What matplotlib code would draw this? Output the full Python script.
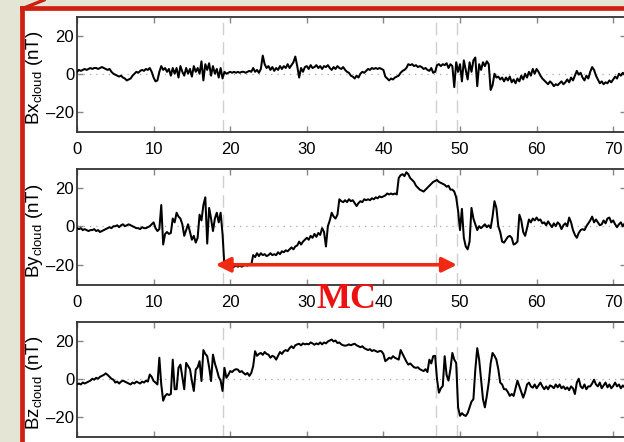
import numpy as np
import matplotlib
matplotlib.use("Agg")
import matplotlib.pyplot as plt
from matplotlib import font_manager
from matplotlib.lines import Line2D

# ---------------- data ----------------
dt = 0.25
bx_cloud = [
    1, 2, 1.5, 2,   2.5, 2, 2.5, 3,   2.5, 3, 3, 2.5,   3, 3.5, 3, 2.5,
    2, 2.5, 1, 0,   -0.5, -1, -1.5, -1,   -2, -2.5, -3.5, -3,   -2.5, -1, 0, 1,
    0.5, 1.5, 2, 1.5,   2.5, 2, 3, 1,   -2, -4, -3.5, 1,   4, 2, 3, 1,
    2.5, -1, 3, 0,   3, -2, 4, 1,   -1, 3, 0, 2.5,   -1.5, 4, 1, 3,
    0, 6.5, -3.5, 5,   2, 5.5, -1, 4,   0, 2.5, -2, 3,   -2.5, 1, 0, 0.5,
    1, 0.5, 1, 0.5,   1, 0.5, 1, 1,   0.5, 1, 1.5, 1,   3, 1, 2, 0.5,
    2.5, 9.5, 5, 3,   4, 2, 3.5, 1.5,   3, 2, 4, 2.5,   4, 3, 5, 3,
    4.5, 6, 9, 4,   -2, 3, 1, 3.5,   4, 2.5, 4.5, 3,   3.5, 4.5, 3, 4,
    2.5, 4, 3.5, 4.5,   3, 2, 3.5, 2.5,   4, 3, 2.5, 3.5,   2, 1, 0.5, -1,
    -1.5, -2.5, -1, -2,   0, 1, 0.5, 1.5,   2.5, 2, 3, 2.5,   3, 2.5, 3, 2.5,
    2, -1.5, -2.5, -3.5,   -2.5, -3, -2, -1.5,   -1, 0.5, 1.5, 2,   3, 5, 4.5, 5,
    4, 4.5, 3.5, 4,   3.5, 2.5, 3, 2,   1.5, 3, 0.5, 1,   4.5, 5, 4, 5,
    4.5, 5.5, 3, 5,   4, -7, 6, 1,   5, -4, 7, 2,   -3, 6, 1, 7,
    8.5, -6.5, 5, 2,   6, 4, 6.5, 5,   -8.5, -6, 0, -2,   -1.5, -3, -2, -4,
    -2, -3.5, -1.5, -4.5,   -3, -5, -2.5, -4,   -1, -3, 0, -2,   1, -1, 2.5, 0,
    2.5, 1, -1, -2.5,   -3.5, -4.5, -5.5, -4,   -5, -6.5, -5.5, -6,   -5, -4, -5.5, -4.5,
    -3, -4.5, -2, -3.5,   -1, 1.5, -0.5, 0.5,   -2, -3.5, -1, -2.5,   1, 3.5, 2, -1,
    -3, -5, -4, -5.5,   -4.5, -5, -3.5, -4.5,   -3, -1.5, -2.5, 0,   -1, 0.5, -0.5, 0,
]
by_cloud = [
    -1, -1.5, -1, -2,   -1.5, -2, -2.5, -2,   -2, -1.5, -2.5, -2,   -3, -2.5, -2, -1.5,
    -1, -0.5, -1, 0,   0, 0.5, -0.5, 0.5,   1, 0, 0.5, 1,   0.5, 0, -0.5, -1,
    -1, -1.5, -0.5, -1,   -1, -0.5, 0, 1,   2, -1, -2.5, -1.5,   11, -9.5, -4, -3,
    -4, -3.5, 4, 2,   7, 5, 4, 1,   -5, -2, 1, -3,   -7, -5, -8.5, -6,
    6, 3, 11, 15,   -9, 9.5, 4, -2.5,   4, 7, 2, 7,   -4, -21, -21, -21.5,
    -21, -21.5, -21, -20.5,   -21, -20.5, -21, -20.5,   -20, -20.5, -19.5, -20,   -15, -16, -14, -15.5,
    -14, -15, -14.5, -15.5,   -15, -14, -15, -14.5,   -15, -13.5, -14.5, -13,   -13.5, -12.5, -13, -12,
    -11, -12, -10.5, -10,   -8, -9.5, -8, -7,   -6, -7, -5, -6,   -4, -5.5, -3.5, -4.5,
    -1, -3, -10.5, 0,   3, 7, 5, 4,   6, 14, 13, 12.5,   13.5, 12.5, 14, 13,
    13.5, 12, 10.5, 12,   13, 12.5, 14, 13.5,   14, 13.5, 14.5, 14,   15, 14.5, 15.5, 15,
    15.5, 16, 17, 16.5,   17, 16.5, 17, 16.5,   25, 26.5, 27, 26,   28, 27, 25, 24,
    23, 21, 20, 19,   18.5, 18, 19, 20,   21, 22, 23, 23.5,   24, 23, 22.5, 22,
    21.5, 20.5, 21, 19,   19, 18, 15, 8,   -2, 9, -6, -10.5,   -12, -8, 9.5, 4,
    1, -2, 0, -1,   0, 1, -0.5, 0.5,   -1, 5, 13, 9.5,   0, -3, -8, -8.5,
    -7, -5.5, -5, -6,   -9.5, -9, -8, 6,   3, -3, -5, -1,   3.5, 2, 4, 3,
    4.5, 3, 3.5, 1.5,   2, 0.5, 2.5, 1,   -0.5, 1.5, 0, 2,   1, -1.5, 0.5, 1.5,
    0, 4.5, 2, -2,   -4.5, -6, -3.5, -2,   -1.5, -2, 0, 1.5,   3, 5, 2, 3.5,
    2, 0.5, 1, 3,   1.5, 4, 4.5, 2,   3, 1, -0.5, 1,   2, 0, 1.5, 0.5,
]
bz_cloud = [
    -3, -2.5, -3, -2,   -2.5, -2, -1.5, -1,   0, -0.5, 0.5, 0,   1, 1.5, 2, 2.8,
    2, 1, 0, -0.5,   -2, -1.5, -2.5, -1.5,   -1, -1.5, -2, -2.5,   -3, -2, -2.5, -1.5,
    -2, -2.5, -1.5, -2,   -1, -1.5, 2.2, 1,   -1.2, -2, -3, 11,   -3, -11.5, -9, -8,
    -8.5, -8, 10, -5.5,   -5.5, 5.7, 7.4, 1,   -5.5, 8.3, 6.6, 5,   -1.2, -6.4, 4.8, 6,
    9.2, -1.2, 15, 13,   11.8, 6, -1.2, 12.6,   8, 4.8, 1, -1,   -6.4, 5.7, 0.5, 2,
    4, 3.5, 4.5, 5,   4.8, 3.5, 4, 3,   2.2, 3, 1.5, 3,   6.6, 14.4, 12, 13,
    13.5, 12.5, 14, 13,   12.6, 11, 12, 11.5,   10, 12, 14, 13,   14.4, 15, 14.5, 16,
    17, 16, 17.5, 18,   18.3, 17.5, 18.5, 18,   18.3, 18, 19, 18.5,   17.8, 18.5, 18, 19,
    18, 19, 18.5, 19.5,   20, 20.5, 19.5, 20,   18.7, 19, 18, 17.5,   17.3, 17.5, 18, 17.5,
    18, 18.3, 17.5, 17,   16.5, 17, 16, 15.5,   15, 15.5, 14.5, 15,   14.5, 14, 14.5, 14.4,
    13, 9.2, 10, 11,   10.5, 11.8, 11, 10.5,   10, 15, 13, 11,   9, 7.4, 8, 7,
    6, 5.7, 6, 5,   4.5, 4, 5, 3.5,   10, 8, 11.8, 12,   -0.3, -7.3, -5, -3.8,
    11.8, 2, -1, 5,   13.5, 10, 8.3, -15,   -19.4, -18, -19, -19.5,   -18, -15, -12, -10.7,
    4.8, 16, 10, -0.5,   -10.7, -15, -9, -2,   8, 13.5, 12, 10,   5, -2, -3, -5.5,
    -5.5, -7, -9, -8,   -9, -5, -1, -4,   -7, -9.9, -7, -3,   -2, -4, -4.7, -3,
    -5, -3.5, -2, -4,   -5.5, -4, -5.5, -3.5,   -4, -5, -3, -4.5,   -3, -5, -4, -5.5,
    -4.5, -6, -4, -5,   -8, -2, 0, -4,   -5, -3, -5.5, -4,   -4, -2.5, -0.5, -3,
    -4, -2, -5, -3.5,   -2, -4.5, -3, -5,   -3.8, -2, -4, -3,   -5, -3.5, -4.5, -4,
]
boundaries = [19.0, 46.9, 49.6]
mc_start, mc_end = 18.1, 49.6
mc_level = -20
panel_labels = ['Bx', 'By', 'Bz']
xticks = [0, 10, 20, 30, 40, 50, 60, 70]
yticks = [-20, 0, 20]

series = [bx_cloud, by_cloud, bz_cloud]

# ---------------- fonts ----------------
names = {f.name for f in font_manager.fontManager.ttflist}
fam = 'Liberation Sans Narrow' if 'Liberation Sans Narrow' in names else 'Liberation Sans'
plt.rcParams['font.family'] = [fam, 'DejaVu Sans']
plt.rcParams['mathtext.fontset'] = 'custom'
plt.rcParams['mathtext.rm'] = fam
plt.rcParams['mathtext.it'] = fam
plt.rcParams['mathtext.default'] = 'regular'

W, H = 624, 442
fig = plt.figure(figsize=(W / 100, H / 100), dpi=100)
fig.patch.set_facecolor('#e5e5d6')

# white area inside red frame
bg = plt.Rectangle((22 / W, 0), 1, 1 - 8 / H, transform=fig.transFigure,
                   facecolor='white', edgecolor='none', zorder=-5)
fig.add_artist(bg)
red = '#cf1f10'
fig.add_artist(Line2D([22 / W, 22 / W], [0, 1 - 8 / H], transform=fig.transFigure,
                      color=red, lw=3.4, zorder=-4))
fig.add_artist(Line2D([22 / W, 1], [1 - 8 / H, 1 - 8 / H], transform=fig.transFigure,
                      color=red, lw=3.4, zorder=-4))
fig.add_artist(Line2D([24 / W, 44 / W], [1 - 8 / H, 1.0], transform=fig.transFigure,
                      color=red, lw=2.4, zorder=-4))

xmax = 71.7
left = 77 / W
width = xmax * 7.66 / W
# (top_px, bottom_px) of each panel
panels_px = [(17, 132), (169, 285), (322, 437)]

t = np.arange(len(bx_cloud)) * dt
axes = []
for i, (top, bot) in enumerate(panels_px):
    ax = fig.add_axes([left, 1 - bot / H, width, (bot - top) / H])
    ax.set_zorder(2)
    ax.set_facecolor('white')
    vals = series[i]
    ax.plot(t[:len(vals)], vals, color='black', lw=1.45, zorder=3)
    ax.axhline(0, color='#a8a8a8', lw=0.9, ls=(0, (1, 4)), zorder=2)
    for b in boundaries:
        ax.axvline(b, color='#cfcfcf', lw=1.0, ls=(0, (9, 5)), zorder=2)
    ax.set_xlim(0, xmax)
    ax.set_ylim(-30.5, 29.7)
    ax.set_xticks(xticks)
    ax.set_yticks(yticks)
    ax.tick_params(direction='in', length=4, width=1, color='#888888',
                   top=True, right=True, labelsize=12, pad=2)
    ax.tick_params(axis='x', pad=7)
    ax.yaxis.set_major_formatter(matplotlib.ticker.FuncFormatter(
        lambda v, p: ('\u2013%d' % abs(v)) if v < 0 else '%d' % v))
    for s in ax.spines.values():
        s.set_color('#333333')
        s.set_linewidth(1.3)
    ax.set_ylabel(panel_labels[i] + r'$_{cloud}$ (nT)', fontsize=13.5)
    ax.yaxis.set_label_coords(-0.058, 0.47)
    if i == 2:
        ax.tick_params(axis='x', labelbottom=False)
    axes.append(ax)

# MC arrow on the By panel
axes[1].annotate('', xy=(mc_start, mc_level), xytext=(mc_end, mc_level),
                 arrowprops=dict(arrowstyle='<|-|>', color='#f02a12', lw=2.6,
                                 mutation_scale=22, shrinkA=0, shrinkB=0),
                 zorder=5)
fig.text(346 / W, 1 - 300 / H, 'MC', color='#ee1111', fontsize=26, fontweight='bold',
         family=['Liberation Serif', 'DejaVu Serif'], ha='center', va='center', zorder=6)

fig.savefig('out.png', dpi=100, facecolor=fig.get_facecolor())
